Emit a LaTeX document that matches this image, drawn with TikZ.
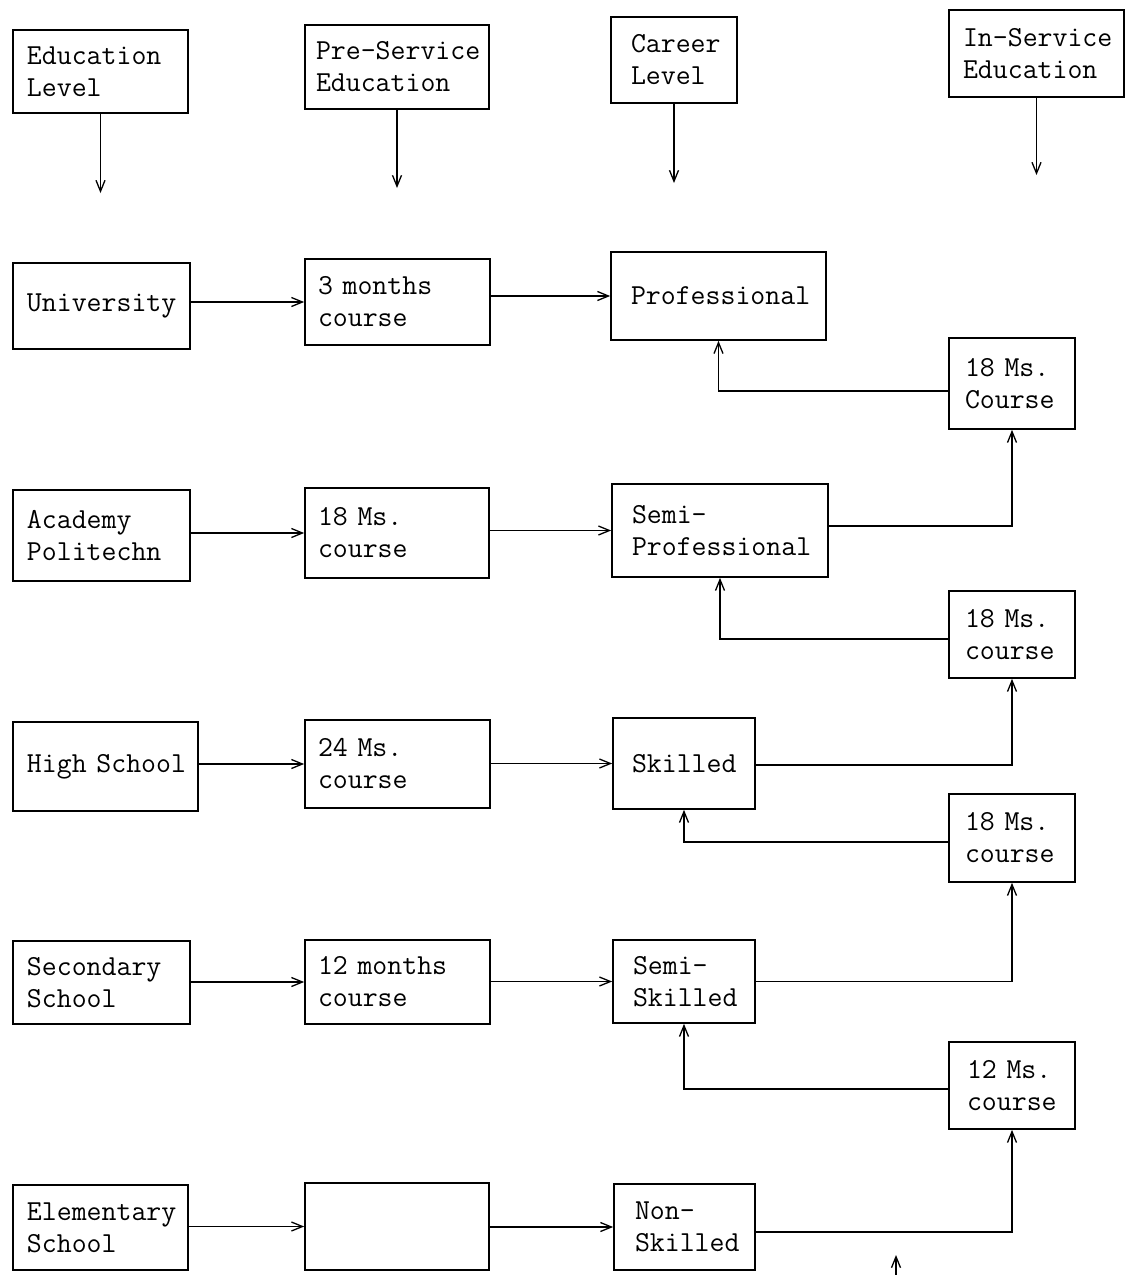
\documentclass[tikz,border=0pt]{standalone}
\usetikzlibrary{arrows.meta}
\begin{document}
\begin{tikzpicture}[x=1pt,y=-1pt,
  box/.style={draw, line width=1.7pt, inner xsep=0pt, inner ysep=2pt, align=left,
    font=\fontsize{29}{32}\selectfont\ttfamily},
  bx/.style n args={3}{minimum width=#1pt, minimum height=#2pt, text width=#3pt},
  arr/.style={line width=1.3pt, -{Straight Barb[length=11pt,width=9pt]}}]
\useasboundingbox[fill=white] (0,0) rectangle (1126,1275);

% header row
\node[box, bx={175}{83}{147}] (hEd)  at (100.5,71.5) {Education\\Level};
\node[box, bx={184}{84}{162}] (hPre) at (397,67) {Pre-Service\\Education};
\node[box, bx={126}{86}{86}]  (hCar) at (674,60) {Career\\Level};
\node[box, bx={175}{87}{147}] (hIn)  at (1036.5,53.5) {In-Service\\Education};
\coordinate (eEd)  at (100.5,193);
\coordinate (ePre) at (397,188);
\coordinate (eCar) at (674,183);
\coordinate (eIn)  at (1036.5,175);
\draw[arr] (hEd.south)  -- (eEd);
\draw[arr] (hPre.south) -- (ePre);
\draw[arr] (hCar.south) -- (eCar);
\draw[arr] (hIn.south)  -- (eIn);

% row 1
\node[box, bx={177}{86}{149}] (uni)  at (101.5,306) {University};
\node[box, bx={185}{86}{159}] (m3)   at (397.5,302) {3 months\\course};
\node[box, bx={215}{88}{175}] (prof) at (718.5,296) {Professional};
\node[box, bx={126}{91}{94}]  (is1)  at (1012,383.5) {18 Ms.\\Course};

% row 2
\node[box, bx={177}{91}{149}] (acad)  at (101.5,535.5) {Academy\\Politechn};
\node[box, bx={184}{90}{158}] (m18)   at (397,533) {18 Ms.\\course};
\node[box, bx={216}{93}{176}] (semip) at (720,530.5) {Semi-\\Professional};
\node[box, bx={126}{87}{94}]  (is2)   at (1012,634.5) {18 Ms.\\course};

% row 3
\node[box, bx={185}{89}{157}] (high) at (105.5,766.5) {High~School};
\node[box, bx={185}{88}{159}] (m24)  at (397.5,764) {24 Ms.\\course};
\node[box, bx={142}{91}{104}] (skl)  at (684,763.5) {Skilled};
\node[box, bx={126}{88}{94}]  (is3)  at (1012,838) {18 Ms.\\course};

% row 4
\node[box, bx={177}{83}{149}] (sec)   at (101.5,982.5) {Secondary\\School};
\node[box, bx={185}{84}{159}] (m12)   at (397.5,982) {12 months\\course};
\node[box, bx={142}{83}{102}] (semis) at (684,981.5) {Semi-\\Skilled};
\node[box, bx={126}{87}{90}]  (is4)   at (1012,1085.5) {12 Ms.\\course};

% row 5
\node[box, bx={175}{85}{147}] (elem)  at (100.5,1227.5) {Elementary\\School};
\node[box, bx={184}{87}{156}] (empty) at (397,1226.5) {};
\node[box, bx={141}{86}{99}]  (non)   at (684.5,1227) {Non-\\Skilled};

% horizontal flow arrows
\draw[arr] (uni.east |- m3.west) -- (m3.west);
\draw[arr] (m3.east |- prof.west) -- (prof.west);
\draw[arr] (acad.east |- m18.west) -- (m18.west);
\draw[arr] (m18.east |- semip.west) -- (semip.west);
\draw[arr] (high.east |- m24.west) -- (m24.west);
\draw[arr] (m24.east |- skl.west) -- (skl.west);
\draw[arr] (sec.east |- m12.west) -- (m12.west);
\draw[arr] (m12.east |- semis.west) -- (semis.west);
\draw[arr] (elem.east |- empty.west) -- (empty.west);
\draw[arr] (empty.east |- non.west) -- (non.west);

% in-service loops
\draw[arr] ([yshift=-7.5pt]is1.west) -| (prof.south);
\draw[arr] ([yshift=4.5pt]semip.east) -| (is1.south);
\draw[arr] ([yshift=-4.5pt]is2.west) -| (semip.south);
\draw[arr] ([yshift=-1.5pt]skl.east) -| (is2.south);
\draw[arr] ([yshift=-4pt]is3.west) -| (skl.south);
\draw[arr] (semis.east) -| (is3.south);
\draw[arr] ([yshift=-3.5pt]is4.west) -| (semis.south);
\draw[arr] ([yshift=-5pt]non.east) -| (is4.south);

% stray arrow at the bottom
\coordinate (s1) at (896,1275);
\coordinate (s2) at (896,1255);
\draw[arr] (s1) -- (s2);
\end{tikzpicture}
\end{document}
